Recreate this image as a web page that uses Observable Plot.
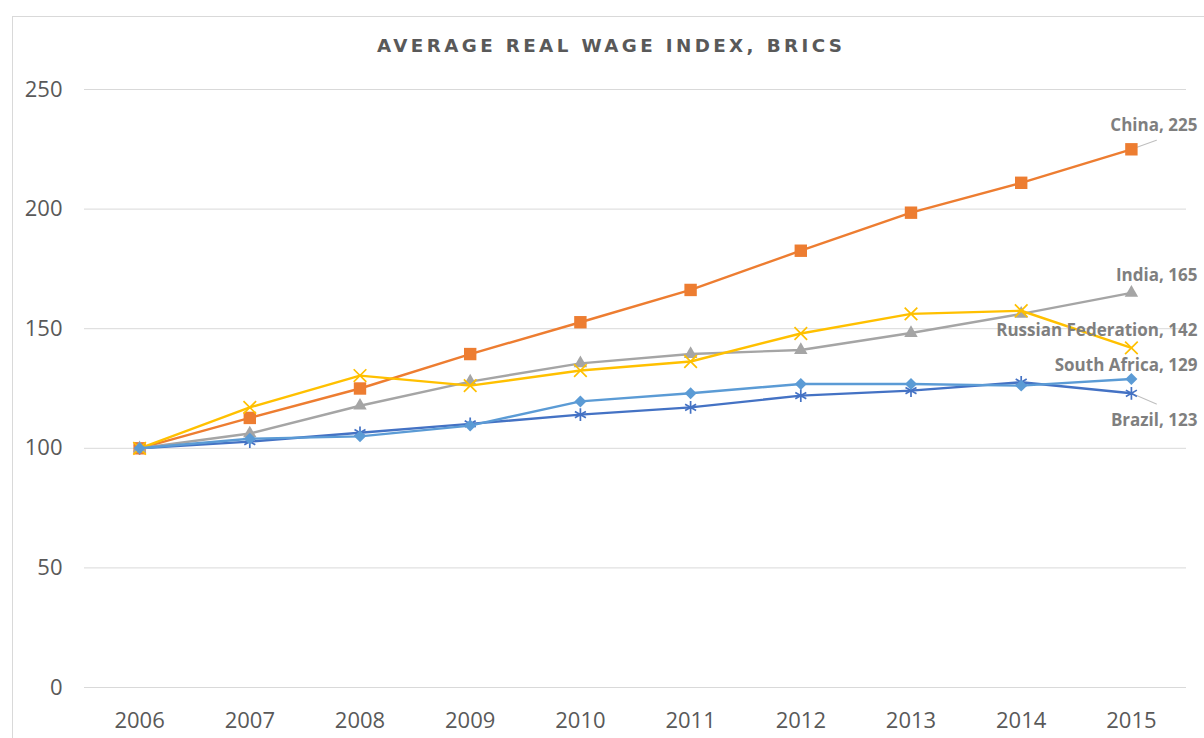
<!DOCTYPE html>
<html>
<head>
<meta charset="utf-8">
<script src="https://cdn.jsdelivr.net/npm/d3@7"></script>
<script src="https://cdn.jsdelivr.net/npm/@observablehq/plot@0.6"></script>
<style>
  html, body { margin: 0; padding: 0; background: #fff; }
  #wrap { position: relative; width: 1204px; height: 738px; overflow: hidden; font-family: "Open Sans", sans-serif; }
  #frame { position: absolute; left: 12px; top: 16px; width: 1300px; height: 800px; border: 1px solid #d9d9d9; box-sizing: border-box; }
  #title { position: absolute; top: 36.5px; left: 0; white-space: nowrap; font-family: "DejaVu Sans", sans-serif; font-size: 18.3px; line-height: 1; font-weight: 700; color: #595959; }
  #chart { position: absolute; left: 0; top: 0; }
</style>
</head>
<body>
<div id="wrap">
  <div id="frame"></div>
  <div id="chart"></div>
  <div id="title">AVERAGE REAL WAGE INDEX, BRICS</div>
</div>
<script>
const years = [2006, 2007, 2008, 2009, 2010, 2011, 2012, 2013, 2014, 2015];
const yTicks = [0, 50, 100, 150, 200, 250];

const seriesNames = ["Brazil", "China", "India", "Russian Federation", "South Africa"];
const brazil       = [100, 102.8, 106.5, 110.2, 114.1, 117.1, 122.0, 124.1, 127.6, 123];
const china        = [100, 112.7, 125.0, 139.4, 152.7, 166.2, 182.6, 198.5, 211.0, 225];
const india        = [100, 106.2, 117.8, 127.9, 135.5, 139.4, 141.1, 148.2, 156.2, 165];
const russia       = [100, 117.1, 130.4, 126.2, 132.5, 136.3, 148.0, 156.2, 157.5, 142];
const southAfrica  = [100, 104.0, 105.0, 109.5, 119.6, 123.0, 126.9, 126.9, 126.2, 129];

const valuesBySeries = [brazil, china, india, russia, southAfrica];

// styling per series (not data)
const styles = {
  "Brazil":             {color: "#4472C4", symbol: "asterisk", filled: false, r: 6.0, labelDy: 27},
  "China":              {color: "#ED7D31", symbol: "square",   filled: true,  r: 7.0, labelDy: -24},
  "India":              {color: "#A5A5A5", symbol: "triangle", filled: true,  r: 5.0, labelDy: -17},
  "Russian Federation": {color: "#FFC000", symbol: "times",    filled: false, r: 5.8, labelDy: -17},
  "South Africa":       {color: "#5B9BD5", symbol: "diamond2", filled: true,  r: 5.4, labelDy: -13}
};
const leaders = { "China": {length: 26.6, rotate: 70.2}, "Brazil": {length: 27.2, rotate: 113.2} };

const rows = [];
seriesNames.forEach((name, i) => {
  valuesBySeries[i].forEach((v, j) => rows.push({series: name, year: years[j], value: v}));
});
const lastRows = seriesNames.map((name, i) => ({series: name, year: years[years.length - 1], value: valuesBySeries[i][years.length - 1]}));

const lineShape = { draw(context, l) { context.moveTo(0, 0); context.lineTo(0, -l); } };

const marks = [
  Plot.gridY(yTicks, {stroke: "#d9d9d9", strokeOpacity: 1, strokeWidth: 1}),
  Plot.axisY(yTicks, {tickSize: 0, tickPadding: 22, fontSize: 22, fill: "#595959", label: null}),
  Plot.axisX(years, {tickSize: 0, tickPadding: 25, fontSize: 22, fill: "#595959", label: null, tickFormat: d => String(d)})
];

// leader lines
for (const name of Object.keys(leaders)) {
  marks.push(Plot.vector(lastRows.filter(d => d.series === name), {
    x: "year", y: "value", length: leaders[name].length, rotate: leaders[name].rotate,
    anchor: "start", shape: lineShape, stroke: "#bfbfbf", strokeWidth: 1
  }));
}

for (const name of seriesNames) {
  const s = styles[name];
  const data = rows.filter(d => d.series === name);
  marks.push(Plot.line(data, {x: "year", y: "value", stroke: s.color, strokeWidth: 2.4, strokeLinejoin: "round", strokeLinecap: "round"}));
  if (s.filled) {
    marks.push(Plot.dot(data, {x: "year", y: "value", symbol: s.symbol, r: s.r, fill: s.color, stroke: "none"}));
  } else {
    marks.push(Plot.dot(data, {x: "year", y: "value", symbol: s.symbol, r: s.r, stroke: s.color, strokeWidth: 1.7, fill: "none"}));
  }
}

for (const name of seriesNames) {
  const s = styles[name];
  marks.push(Plot.text(lastRows.filter(d => d.series === name), {
    x: "year", y: "value", text: d => `${d.series}, ${Math.round(d.value)}`,
    textAnchor: "end", dx: 66, dy: s.labelDy, fontSize: 17, fontWeight: 700, fill: "#7f7f7f"
  }));
}

const chart = Plot.plot({
  width: 1204,
  height: 738,
  marginLeft: 84,
  marginRight: 18,
  marginTop: 89,
  marginBottom: 51,
  style: {fontFamily: "'Open Sans', sans-serif", background: "transparent", overflow: "visible"},
  x: {type: "linear", domain: [2005.5, 2015.5]},
  y: {domain: [0, 250]},
  marks
});
document.getElementById("chart").appendChild(chart);

// title: stretch to measured width with letter spacing, centered at x≈609.5
const title = document.getElementById("title");
const targetWidth = 465;
const n = title.textContent.length;
const w0 = title.getBoundingClientRect().width;
const ls = (targetWidth - w0) / (n - 1);
title.style.letterSpacing = ls + "px";
const w1 = title.getBoundingClientRect().width - ls;
title.style.left = (609.5 - w1 / 2) + "px";
</script>
</body>
</html>
